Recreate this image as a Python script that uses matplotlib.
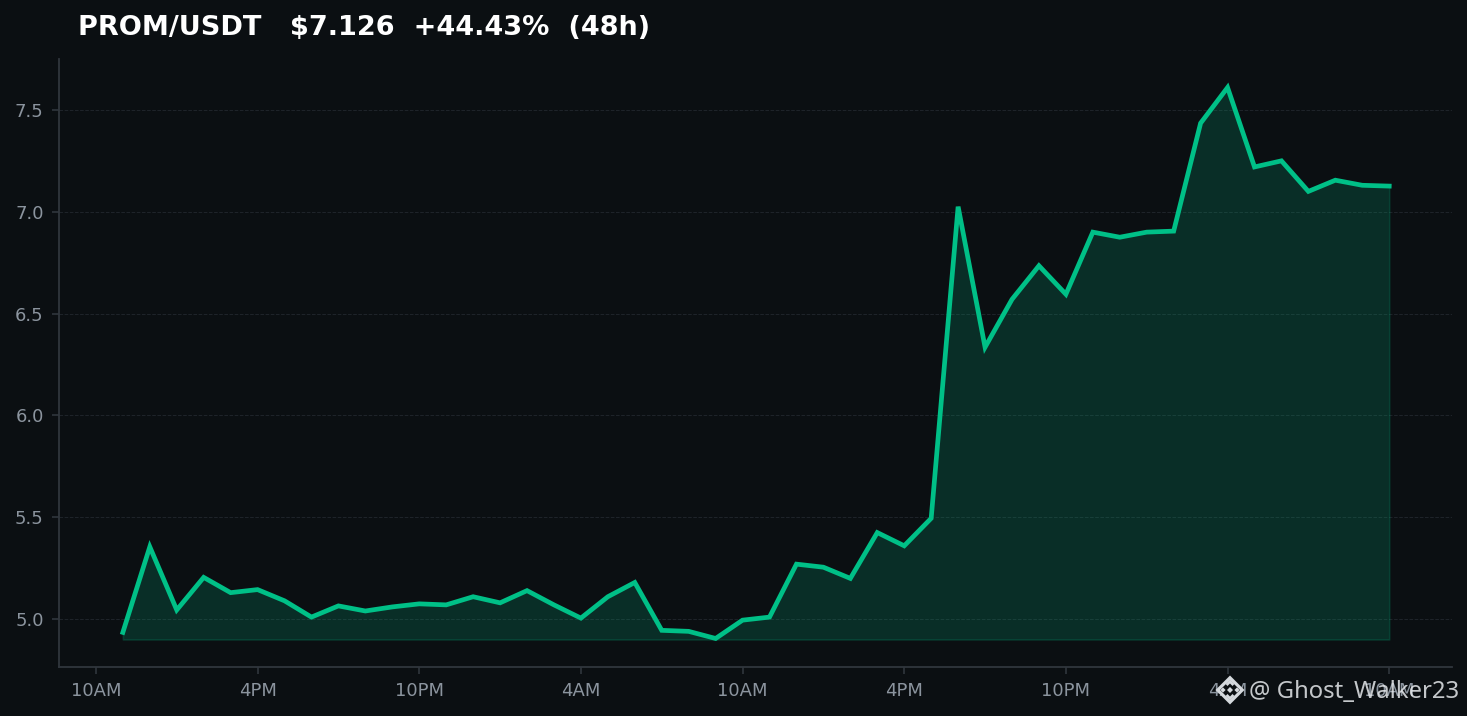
import matplotlib
matplotlib.use("Agg")
import matplotlib.pyplot as plt
from matplotlib.patches import Polygon

hours = list(range(1, 49))
prices = [4.935, 5.355, 5.045, 5.205, 5.13, 5.145, 5.09, 5.01, 5.065, 5.04, 5.06, 5.075,
          5.07, 5.11, 5.08, 5.14, 5.07, 5.005, 5.11, 5.18, 4.945, 4.94, 4.905, 4.995,
          5.01, 5.27, 5.255, 5.20, 5.425, 5.36, 5.495, 7.025, 6.335, 6.57, 6.735, 6.595,
          6.90, 6.875, 6.90, 6.905, 7.435, 7.61, 7.22, 7.25, 7.10, 7.155, 7.13, 7.126]
x_ticks = [0, 6, 12, 18, 24, 30, 36, 42, 48]
x_labels = ["10AM", "4PM", "10PM", "4AM", "10AM", "4PM", "10PM", "4AM", "10AM"]
y_ticks = [5.0, 5.5, 6.0, 6.5, 7.0, 7.5]
base = 4.9
title = "PROM/USDT   $7.126  +44.43%  (48h)"
watermark = "@ Ghost_Walker23"

BG = "#0b0f12"
GREEN = "#00c087"
W, H = 1467, 716
fig = plt.figure(figsize=(W / 100, H / 100), dpi=100, facecolor=BG)
ax = fig.add_axes([59 / W, 1 - 667 / H, (1452 - 59) / W, (667 - 59) / H], facecolor=BG)

ax.fill_between(hours, prices, base, color=GREEN, alpha=0.18, linewidth=1.2, zorder=2)
ax.plot(hours, prices, color=GREEN, linewidth=3.4, solid_joinstyle="miter", zorder=3)

ax.set_xlim(-1.37, 50.33)
ax.set_ylim(4.765, 7.75)
ax.set_xticks(x_ticks, x_labels)
ax.set_yticks(y_ticks)
ax.tick_params(colors="#30363d", labelcolor="#8b949e", labelsize=13, length=5, width=1.2, pad=6)
ax.grid(axis="y", color="#21262d", linestyle="--", linewidth=0.7, alpha=0.9, zorder=1)
ax.set_axisbelow(True)
for s in ("top", "right"):
    ax.spines[s].set_visible(False)
for s in ("left", "bottom"):
    ax.spines[s].set_color("#30363d")
    ax.spines[s].set_linewidth(1.3)

fig.text(78 / W, 1 - 28 / H, title, color="white", fontsize=19.5, fontweight="bold",
         family="DejaVu Sans", va="center", ha="left")

# watermark: logo glyph and handle
ICON = "#d5d9dd"
cx, cy = 1230, 690
def diamond(x, y, r, fc):
    fig.add_artist(Polygon([(x / W, 1 - (y - r) / H), ((x + r) / W, 1 - y / H),
                            (x / W, 1 - (y + r) / H), ((x - r) / W, 1 - y / H)],
                           closed=True, transform=fig.transFigure, facecolor=fc,
                           edgecolor="none", zorder=10))
diamond(cx, cy, 14.5, ICON)
diamond(cx, cy, 10, BG)
diamond(cx, cy - 6, 4.5, ICON)
diamond(cx, cy - 3.5, 3, BG)
diamond(cx, cy + 6, 4.5, ICON)
diamond(cx, cy + 3.5, 3, BG)
diamond(cx, cy, 3, ICON)
diamond(cx - 7, cy, 2.6, ICON)
diamond(cx + 7, cy, 2.6, ICON)
fig.text(1459 / W, 1 - 691.5 / H, watermark, color="#e6e9ec", alpha=0.85, fontsize=17.2,
         family="Noto Sans", va="center", ha="right", zorder=10)

fig.savefig("out.png", dpi=100, facecolor=BG)
